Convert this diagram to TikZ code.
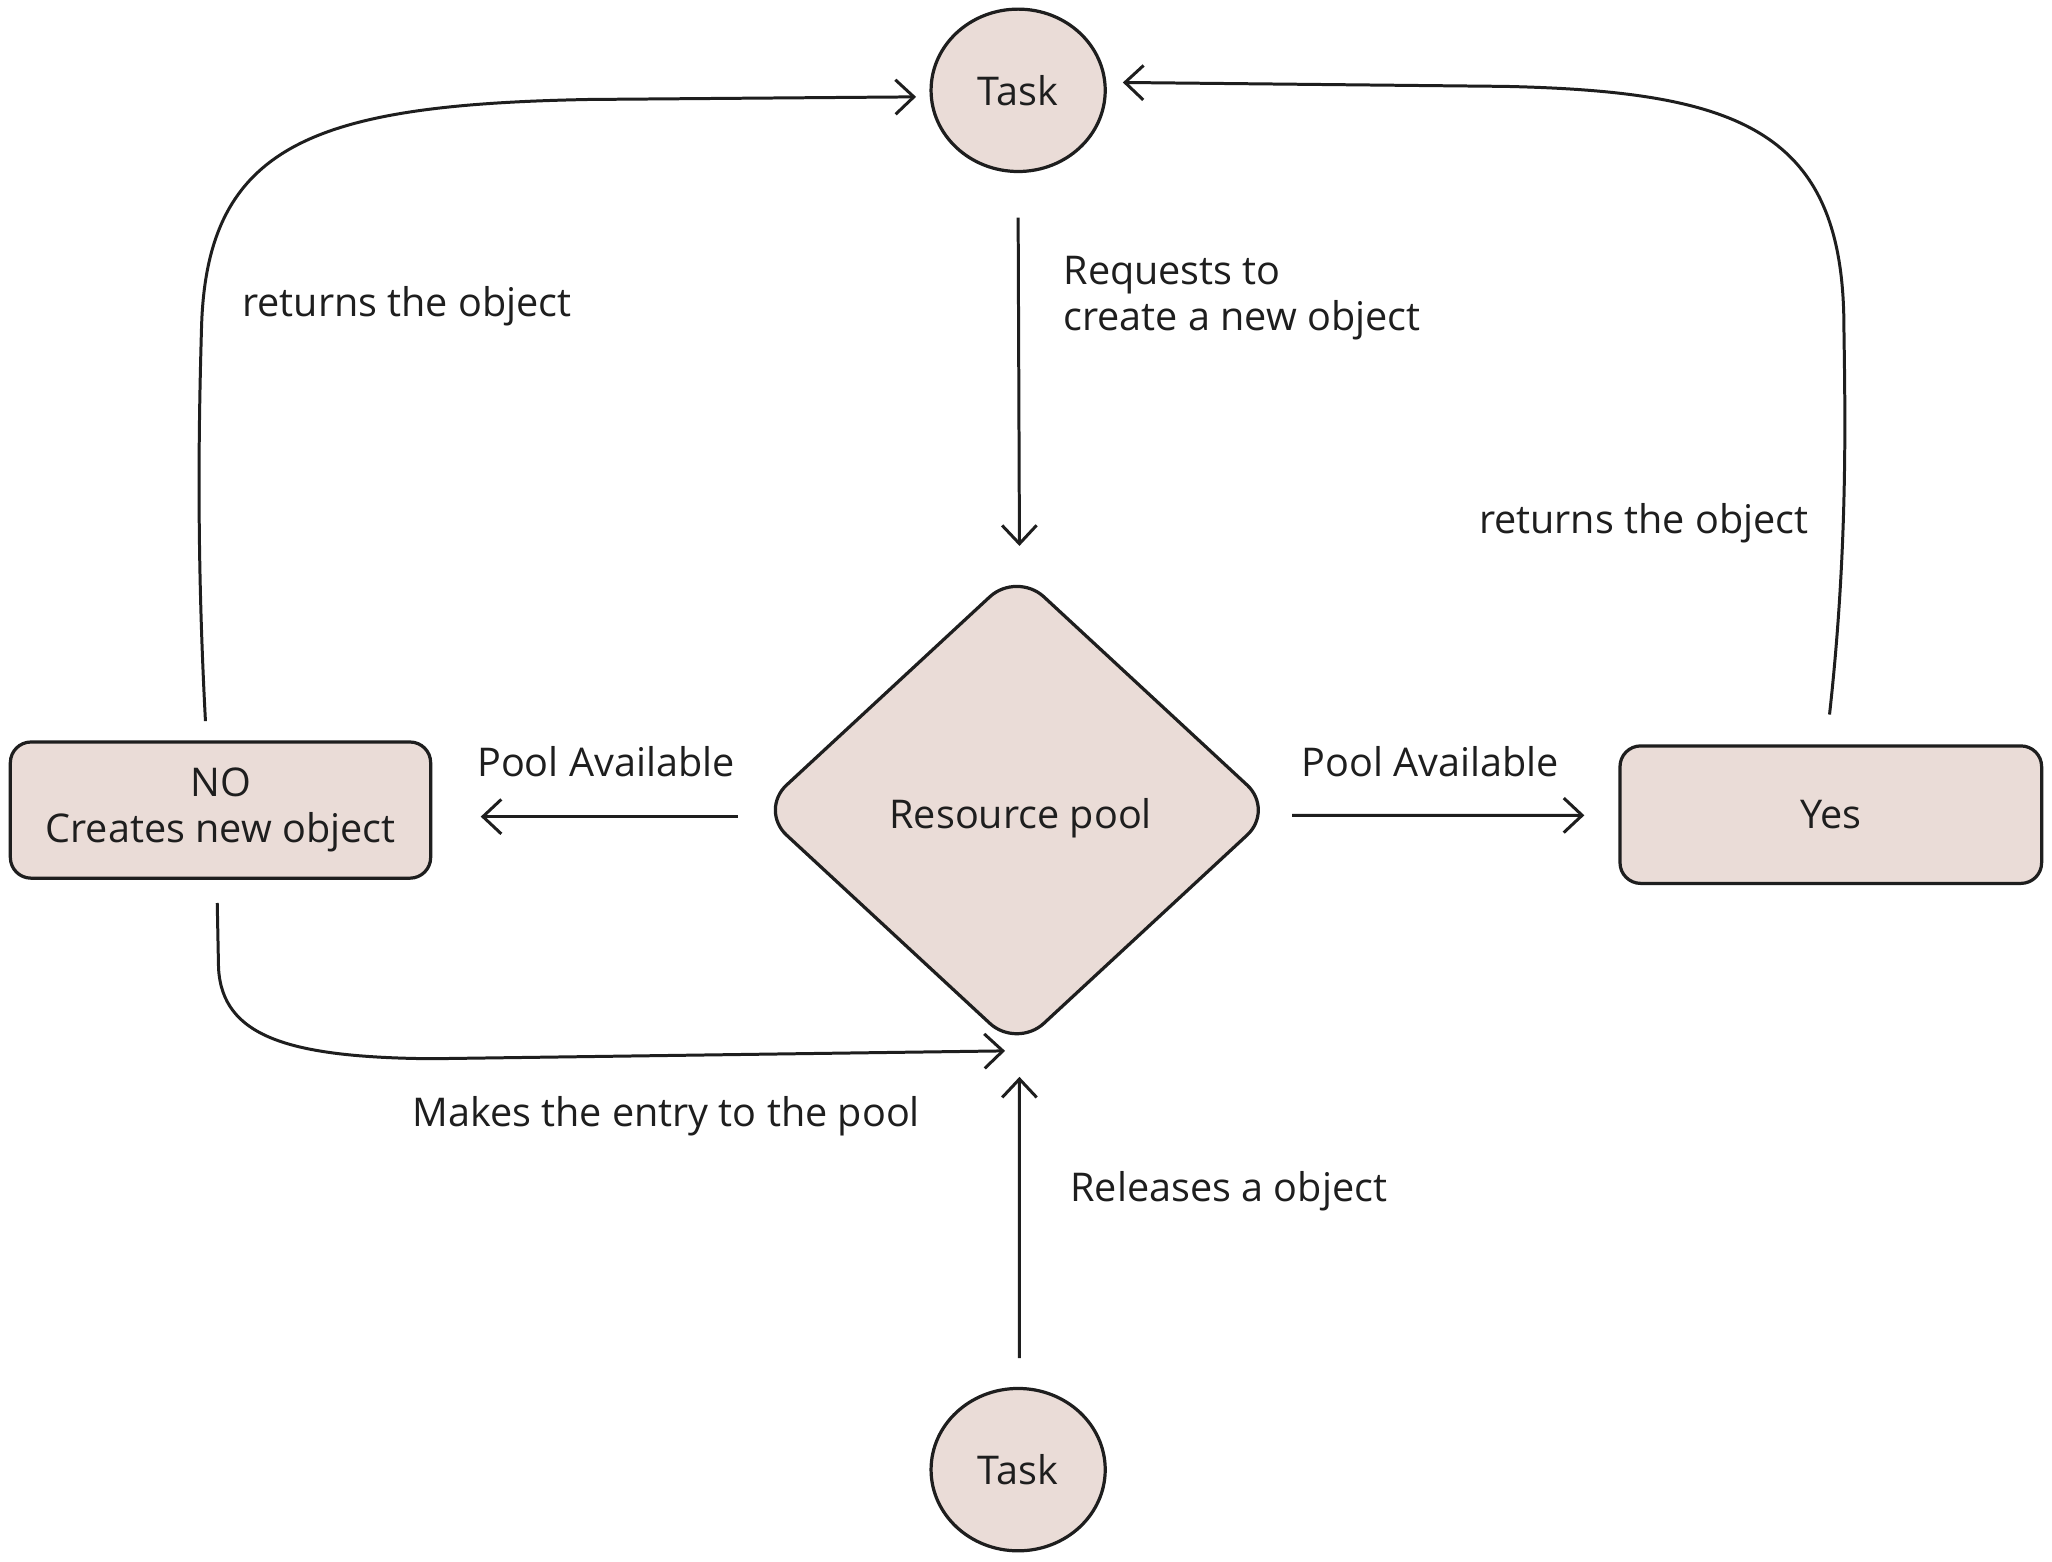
\documentclass[tikz,border=0pt]{standalone}
\usepackage{fontspec}
\setmainfont{Open Sans}
\usetikzlibrary{shapes.geometric,arrows.meta}
\definecolor{nodefill}{HTML}{EADCD7}
\definecolor{ink}{HTML}{1E1E1E}
\tikzset{
  txt/.style={font=\fontsize{8.6}{10}\selectfont, text=ink},
  shapebox/.style={draw=ink, fill=nodefill, line width=0.7pt, txt},
  taskcircle/.style={shapebox, ellipse, minimum width=1.33cm, minimum height=1.24cm, inner sep=0pt},
  roundbox/.style={shapebox, rectangle, rounded corners=4.5pt, minimum width=3.21cm, minimum height=1.04cm, align=center, inner sep=0pt},
  decision/.style={shapebox, diamond, aspect=1.08, minimum width=3.94cm, minimum height=3.65cm, rounded corners=8pt, inner sep=0pt},
  arr/.style={draw=ink, line width=0.65pt, -{Straight Barb[length=4pt,width=7.5pt]}},
  lbl/.style={txt, inner sep=0pt, align=left}
}
\begin{document}
\begin{tikzpicture}[x=0.01cm,y=0.01cm]
\useasboundingbox[fill=white] (0,0) rectangle (1568,-1193);

% nodes
\node[taskcircle] (taskT) at (778,-69) {Task};
\node[taskcircle] (taskB) at (778,-1123) {Task};
\node[decision] (res) at (777,-619) {};
\node[lbl] (reslbl) at (780,-625) {Resource pool};
\node[roundbox] (no) at (168.5,-619) {NO\\Creates new object};
\node[roundbox, minimum width=3.22cm, minimum height=1.05cm] (yes) at (1399,-622.5) {Yes};

% connector end points
\coordinate (noTop) at (157,-551);
\coordinate (noBot) at (166,-690);
\coordinate (yesTop) at (1398,-546);
\coordinate (taskTL) at (700,-74);
\coordinate (taskTR) at (858,-63);
\coordinate (resBL) at (768,-803);

% straight connectors
\draw[arr] ([yshift=-0.34cm]taskT.south) -- ([xshift=0.02cm,yshift=0.18cm]res.north);
\draw[arr] ([xshift=0.01cm,yshift=0.22cm]taskB.north) -- ([xshift=0.02cm,yshift=-0.20cm]res.south);
\draw[arr] ([xshift=-0.15cm,yshift=-0.05cm]res.west) -- ([xshift=0.37cm,yshift=-0.05cm]no.east);
\draw[arr] ([xshift=0.12cm,yshift=-0.04cm]res.east) -- ([xshift=-0.26cm,yshift=-0.005cm]yes.west);

% curved connectors
\draw[arr] (noTop) .. controls (150,-420) and (152,-320) .. (154,-250)
  .. controls (158,-110) and (240,-80) .. (450,-76) -- (taskTL);
\draw[arr] (yesTop) .. controls (1412,-420) and (1410,-320) .. (1409,-250)
  .. controls (1409,-100) and (1330,-70) .. (1150,-66) -- (taskTR);
\draw[arr] (noBot) -- (167,-740) .. controls (170,-792) and (220,-808) .. (330,-809) -- (resBL);

% labels
\node[lbl, anchor=west] (lreq) at (812,-228) {Requests to\\create a new object};
\node[lbl] (lretL) at (311,-234) {returns the object};
\node[lbl] (lretR) at (1256,-400) {returns the object};
\node[lbl] (lpoolL) at (463,-582) {Pool Available};
\node[lbl] (lpoolR) at (1093,-582) {Pool Available};
\node[lbl] (lmake) at (509,-853) {Makes the entry to the pool};
\node[lbl] (lrel) at (939,-910) {Releases a object};
\end{tikzpicture}
\end{document}
